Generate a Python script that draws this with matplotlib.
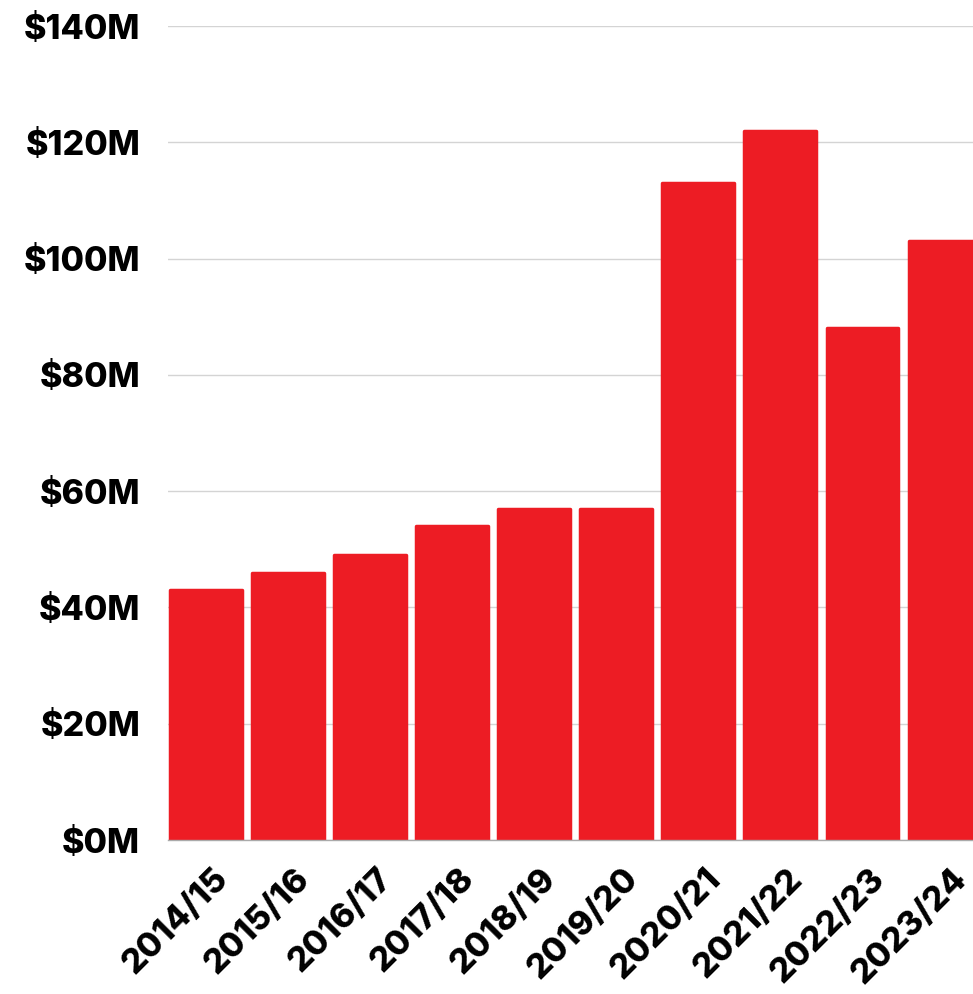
import matplotlib.pyplot as plt
from matplotlib.transforms import ScaledTranslation

seasons = ['2014/15', '2015/16', '2016/17', '2017/18', '2018/19',
           '2019/20', '2020/21', '2021/22', '2022/23', '2023/24']
revenue_m = [43, 46, 49, 54, 57, 57, 113, 122, 88, 103]
y_ticks = [0, 20, 40, 60, 80, 100, 120, 140]

plt.rcParams['font.family'] = ['Inter', 'DejaVu Sans']

fig = plt.figure(figsize=(9.73, 9.94), dpi=100)
ax = fig.add_axes([168 / 973, 1 - 840 / 994, 817.6 / 973, 814 / 994])

red = '#ED1C24'
x = list(range(len(seasons)))
ax.bar(x, revenue_m, width=0.875, color=red, edgecolor=red,
       linewidth=2.5, joinstyle='round', zorder=2)

ax.set_xlim(-0.4585, 9.5)
ax.set_ylim(0, 140)
ax.set_yticks(y_ticks)
ax.set_yticklabels([f'${v}M' for v in y_ticks], fontsize=24.5, fontweight='heavy')
ax.grid(axis='y', color='#d4d4d4', linewidth=1, zorder=0)
ax.tick_params(axis='y', length=0, pad=20)
ax.tick_params(axis='x', length=0, pad=2)

ax.set_xticks(x)
ax.set_xticklabels(seasons, fontsize=24.5, fontweight='heavy', rotation=45,
                   ha='right', va='top', rotation_mode='anchor')
offset = ScaledTranslation(6 / 100, -20 / 100, fig.dpi_scale_trans)
for lbl in ax.get_xticklabels():
    lbl.set_transform(lbl.get_transform() + offset)

for side in ['top', 'right', 'left']:
    ax.spines[side].set_visible(False)
ax.spines['bottom'].set_color('#aaaaaa')
ax.spines['bottom'].set_linewidth(1)

fig.savefig('out.png', dpi=100)
